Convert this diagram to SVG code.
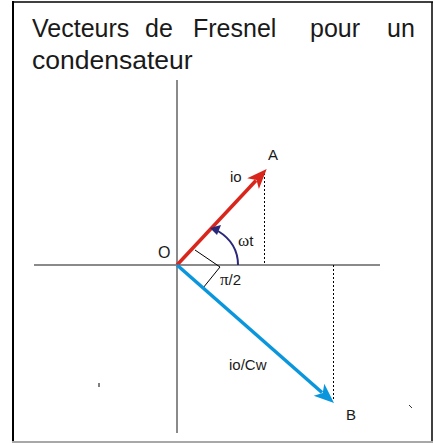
<svg xmlns="http://www.w3.org/2000/svg" width="435" height="443" viewBox="0 0 435 443">
<style>
.t{font-family:"Liberation Sans",Arial,sans-serif;fill:#1a1a1a}
.title{font-size:25px}
.lbl{font-size:15px}
.sym{font-family:"Liberation Serif","Times New Roman",serif}
.axis{stroke:#8a8a8a;stroke-width:2;fill:none}
.dash{stroke:#000;stroke-width:1;stroke-dasharray:2 2;fill:none}
</style>
<rect x="0" y="0" width="435" height="443" fill="#fff"/>
<g id="frame">
<line x1="13" y1="1" x2="13" y2="442" stroke="#000" stroke-width="2"/>
<line x1="12" y1="2" x2="433" y2="2" stroke="#000" stroke-width="1.5"/>
<line x1="432" y1="2" x2="432" y2="442" stroke="#000" stroke-width="1.5"/>
<line x1="12" y1="442" x2="433" y2="442" stroke="#a8a8a8" stroke-width="2"/>
</g>
<g id="title" class="t title">
<text x="32" y="37">Vecteurs</text>
<text x="145" y="37">de</text>
<text x="193" y="37">Fresnel</text>
<text x="310" y="37">pour</text>
<text x="387" y="37">un</text>
<text x="32" y="69" font-size="26.5">condensateur</text>
</g>
<g id="axes">
<line class="axis" x1="34" y1="265" x2="380" y2="265"/>
<line class="axis" x1="177" y1="80" x2="177" y2="433" stroke-width="1.5"/>
</g>
<g id="connectors">
<line class="dash" x1="264.5" y1="173" x2="264.5" y2="265"/>
<line class="dash" x1="333.5" y1="265" x2="333.5" y2="401"/>
<polyline points="195,250 220,267 203,288" fill="none" stroke="#000" stroke-width="1"/>
<g id="vecA">
<line x1="177" y1="265" x2="256" y2="180.5" stroke="#d9261c" stroke-width="3.5"/>
<path d="M266.7,169 L258.9,189.1 L256.5,180 L247.2,178.3 Z" fill="#d9261c"/>
</g>
<g id="vecB">
<line x1="177" y1="265" x2="322" y2="392.5" stroke="#0a96dc" stroke-width="3.5"/>
<path d="M334,403 L313.7,395.8 L322.7,393.1 L324.3,383.8 Z" fill="#0a96dc"/>
</g>
<g id="arc">
<path d="M238,265 C238,250 231,239 218,231" fill="none" stroke="#2a2878" stroke-width="2"/>
<path d="M210,228 L221,225 L217,235 Z" fill="#2a2878"/>
</g>
<line x1="99" y1="383" x2="99" y2="387" stroke="#000" stroke-width="1"/>
<line x1="409" y1="405" x2="412" y2="408" stroke="#333" stroke-width="1"/>
</g>
<g id="labels" class="t lbl">
<text id="lblA" x="268" y="160">A</text>
<text id="lblio" x="230" y="182">io</text>
<text id="lblwt" x="238" y="246"><tspan class="sym" font-size="17">ω</tspan>t</text>
<text id="lblO" x="158" y="258" font-size="16">O</text>
<text id="lblpi" x="220" y="285"><tspan class="sym" font-size="17">π</tspan>/2</text>
<text id="lblioc" x="229" y="370">io/Cw</text>
<text id="lblB" x="346" y="420">B</text>
</g>
</svg>
